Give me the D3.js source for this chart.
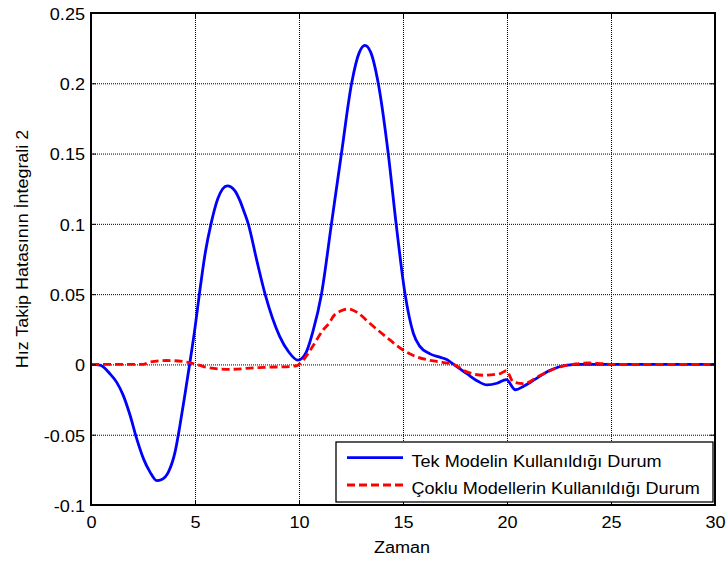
<!DOCTYPE html>
<html>
<head>
<meta charset="utf-8">
<script src="https://cdn.jsdelivr.net/npm/d3@7"></script>
<style>
  body { margin: 0; background: #fff; }
  svg { display: block; }
  text { font-family: "Liberation Sans", Arial, sans-serif; fill: #000; }
</style>
</head>
<body>
<svg id="chart" width="727" height="562"></svg>
<script>
// Axis ticks and labels
const xTicks = [0, 5, 10, 15, 20, 25, 30];
const yTicks = [-0.1, -0.05, 0, 0.05, 0.1, 0.15, 0.2, 0.25];
const yTickLabels = ["-0.1", "-0.05", "0", "0.05", "0.1", "0.15", "0.2", "0.25"];
const xLabel = "Zaman";
const yLabel = "Hız Takip Hatasının İntegrali 2";
const seriesNames = ["Tek Modelin Kullanıldığı Durum", "Çoklu Modellerin Kullanıldığı Durum"];

// Single-model case (blue)
const singleTime = [0, 0.43, 0.91, 1.23, 1.55, 1.875, 2.2, 2.52, 2.84, 3.16, 3.4, 3.72, 4.04, 4.28,
  4.52, 4.74, 5.0, 5.21, 5.5, 5.77, 6.1, 6.55, 6.92, 7.16, 7.35, 7.56, 7.97, 8.37, 9.07, 9.5, 9.95,
  10.35, 10.68, 11.08, 11.56, 12.04, 12.53, 12.9, 13.17, 13.45, 13.81, 14.29, 14.67, 15.1, 15.5, 15.8,
  16.3, 16.8, 17.1, 17.43, 18.07, 18.6, 19.04, 19.52, 19.97, 20.4, 20.8, 21.3, 22.1, 22.9, 23.5, 30];
const singleValue = [0, -0.0005, -0.0066, -0.0126, -0.022, -0.036, -0.053, -0.067, -0.0766, -0.0826,
  -0.0818, -0.0766, -0.0624, -0.043, -0.021, 0, 0.026, 0.05, 0.08, 0.1, 0.118, 0.127, 0.1235, 0.1165,
  0.109, 0.1, 0.074, 0.05, 0.02, 0.009, 0.003, 0.0088, 0.024, 0.05, 0.1, 0.15, 0.2, 0.222, 0.227, 0.222,
  0.2, 0.15, 0.1, 0.05, 0.022, 0.013, 0.0075, 0.005, 0.0035, 0, -0.0066, -0.012, -0.0146, -0.0134,
  -0.0108, -0.018, -0.0155, -0.011, -0.004, -0.0005, 0, 0];

// Multiple-model case (red, dashed)
const multiTime = [0, 2.5, 2.84, 3.64, 4.6, 5.24, 5.53, 6.66, 7.8, 8.5, 9.55, 9.9, 10.2, 10.6,
  11.16, 11.48, 11.64, 12.0, 12.37, 12.8, 13.4, 14.37, 15.0, 15.66, 16.46, 16.9, 17.43, 18.07, 18.87,
  19.68, 19.97, 20.3, 20.8, 21.6, 22.6, 23.3, 24.0, 24.6, 25.0, 30];
const multiValue = [0, 0, 0.0017, 0.0028, 0.0017, -0.0007, -0.002, -0.0035, -0.0025, -0.002,
  -0.0015, -0.0008, 0.003, 0.0115, 0.0245, 0.030, 0.034, 0.038, 0.0395, 0.037, 0.0293, 0.0174, 0.0103,
  0.0054, 0.0025, 0.0015, 0, -0.0053, -0.0077, -0.0065, -0.0045, -0.0125, -0.0137, -0.0077, -0.0015,
  0.0003, 0.001, 0.0005, 0, 0];

const plot = { left: 91, right: 715, top: 13, bottom: 505 };
const stretchX = 1.13;   // glyphs are drawn slightly widened
const fontSize = 16;

const svg = d3.select("#chart");

const x = d3.scaleLinear().domain([0, 30]).range([plot.left, plot.right]);
const y = d3.scaleLinear().domain([-0.1, 0.25]).range([plot.bottom, plot.top]);

// Dotted grid
const grid = svg.append("g").attr("class", "grid");
grid.append("g")
  .attr("transform", `translate(0,${plot.bottom})`)
  .call(d3.axisBottom(x).tickValues(xTicks).tickSize(-(plot.bottom - plot.top)).tickFormat(""))
  .call(g => g.select(".domain").remove());
grid.append("g")
  .attr("transform", `translate(${plot.left},0)`)
  .call(d3.axisLeft(y).tickValues(yTicks).tickSize(-(plot.right - plot.left)).tickFormat(""))
  .call(g => g.select(".domain").remove());
grid.selectAll("line")
  .attr("stroke", "#7a7a7a")
  .attr("stroke-width", 1)
  .attr("stroke-dasharray", "1,1");

// Series lines
const line = (xs, vs) => d3.line()
  .x((d, i) => x(xs[i]))
  .y(d => y(d))
  .curve(d3.curveMonotoneX)(vs);

svg.append("path")
  .attr("d", line(singleTime, singleValue))
  .attr("fill", "none")
  .attr("stroke", "#0000ff")
  .attr("stroke-width", 2.8)
  .attr("stroke-linejoin", "round");

svg.append("path")
  .attr("d", line(multiTime, multiValue))
  .attr("fill", "none")
  .attr("stroke", "#ff0000")
  .attr("stroke-width", 2.8)
  .attr("stroke-dasharray", "8,4");

// Inward ticks on all four sides
const tickLen = -5;
const axB = svg.append("g").attr("transform", `translate(0,${plot.bottom})`)
  .call(d3.axisBottom(x).tickValues(xTicks).tickSize(tickLen).tickPadding(0).tickFormat(d => d));
const axL = svg.append("g").attr("transform", `translate(${plot.left},0)`)
  .call(d3.axisLeft(y).tickValues(yTicks).tickSize(tickLen).tickPadding(0)
    .tickFormat((d, i) => yTickLabels[i]));
svg.append("g").attr("transform", `translate(0,${plot.top})`)
  .call(d3.axisTop(x).tickValues(xTicks).tickSize(tickLen).tickFormat(""));
svg.append("g").attr("transform", `translate(${plot.right},0)`)
  .call(d3.axisRight(y).tickValues(yTicks).tickSize(tickLen).tickFormat(""));

svg.selectAll(".domain").remove();
svg.selectAll(".tick line").attr("stroke", "#000").attr("stroke-width", 1);

axB.selectAll("text")
  .attr("font-size", fontSize)
  .attr("font-family", "Liberation Sans, Arial, sans-serif")
  .attr("fill", "#000")
  .attr("x", 0)
  .attr("y", 0)
  .attr("dy", 0)
  .attr("transform", `translate(0,23) scale(${stretchX},1)`);

axL.selectAll("text")
  .attr("font-size", fontSize)
  .attr("font-family", "Liberation Sans, Arial, sans-serif")
  .attr("fill", "#000")
  .attr("x", 0)
  .attr("y", 0)
  .attr("dy", "0.4em")
  .attr("text-anchor", "end")
  .attr("transform", `translate(-6,0) scale(${stretchX},1)`);

// Axes box
svg.append("rect")
  .attr("x", plot.left).attr("y", plot.top)
  .attr("width", plot.right - plot.left).attr("height", plot.bottom - plot.top)
  .attr("fill", "none").attr("stroke", "#000").attr("stroke-width", 2);

// Axis titles
svg.append("text")
  .attr("transform", `translate(${(plot.left + plot.right) / 2 - 1},553) scale(${stretchX},1)`)
  .attr("text-anchor", "middle")
  .attr("font-size", fontSize)
  .text(xLabel);

svg.append("text")
  .attr("transform", `translate(28.3,249) rotate(-90) scale(${stretchX * 0.99},1)`)
  .attr("text-anchor", "middle")
  .attr("font-size", fontSize)
  .text(yLabel);

// Legend
const legend = svg.append("g");
legend.append("rect")
  .attr("x", 336).attr("y", 442).attr("width", 377).attr("height", 60)
  .attr("fill", "#fff").attr("stroke", "#000").attr("stroke-width", 1.3);

const legendStyles = [
  { color: "#0000ff", dash: null, lineY: 457.7, textY: 466.7 },
  { color: "#ff0000", dash: "8,4", lineY: 485, textY: 494 }
];
seriesNames.forEach((name, i) => {
  const s = legendStyles[i];
  legend.append("line")
    .attr("x1", 347).attr("x2", 403)
    .attr("y1", s.lineY).attr("y2", s.lineY)
    .attr("stroke", s.color).attr("stroke-width", 2.8)
    .attr("stroke-dasharray", s.dash);
  legend.append("text")
    .attr("transform", `translate(411.5,${s.textY}) scale(${stretchX},1)`)
    .attr("font-size", fontSize)
    .text(name);
});
</script>
</body>
</html>
